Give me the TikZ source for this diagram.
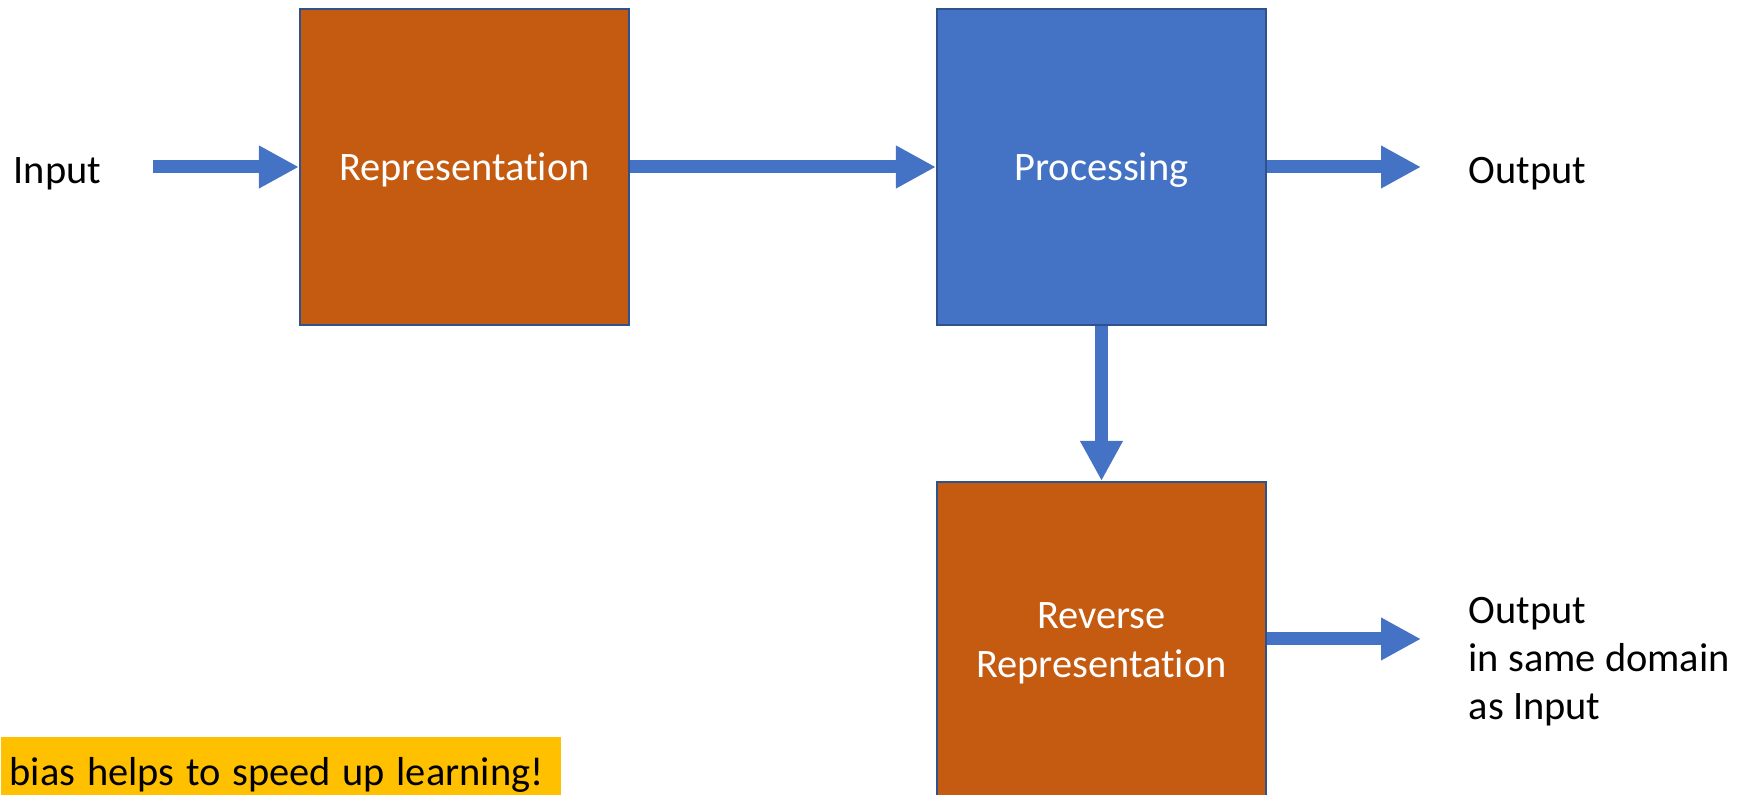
\documentclass[tikz,border=0pt]{standalone}
\usepackage{fontspec}
\setmainfont{Carlito}[RawFeature={-liga;-clig;-calt}]
\usetikzlibrary{arrows.meta}

\definecolor{reporange}{HTML}{C55A11}
\definecolor{procblue}{HTML}{4472C4}
\definecolor{edgeblue}{HTML}{2F528F}
\definecolor{noteyellow}{HTML}{FFC000}

\tikzset{
    blockbox/.style={draw=edgeblue, line width=0.6pt, minimum width=3.29cm, minimum height=3.16cm,
        text=white, align=center, inner sep=0pt, text depth=-0.6pt},
    flowarrow/.style={draw=procblue, line width=3.7pt, -{Triangle[length=4mm, width=4mm]}},
    plainlabel/.style={inner sep=0pt, align=left}
}

\begin{document}
\begin{tikzpicture}[font=\fontsize{11.5}{13.7}\selectfont]
    \useasboundingbox (0,0) rectangle (17.57,-7.95);
    \clip (0,0) rectangle (17.57,-7.95);

    % Representation box
    \node[blockbox, fill=reporange] (rep) at (4.645,-1.67) {Representation};

    % Processing box
    \node[blockbox, fill=procblue] (proc) at (11.015,-1.67) {Processing};

    % Reverse representation box
    \node[blockbox, fill=reporange] (rev) at (11.015,-6.40) {Reverse\\Representation};

    % Input and outputs
    \node[plainlabel, anchor=west] (input) at (0.13,-1.74) {Input};
    \node[plainlabel, anchor=west] (output) at (14.68,-1.74) {Output};
    \node[plainlabel, anchor=west] (output2) at (14.68,-6.62) {Output\\in same domain\\as Input};
    \coordinate (inend) at (1.53,-1.67);
    \coordinate (outend) at (14.21,-1.67);
    \coordinate (out2end) at (14.21,-6.39);

    % Arrows
    \draw[flowarrow] (inend) -- (rep.west);
    \draw[flowarrow] (rep.east) -- (proc.west);
    \draw[flowarrow] (proc.east) -- (outend);
    \draw[flowarrow] (proc.south) -- (rev.north);
    \draw[flowarrow] (rev.east |- out2end) -- (out2end);

    % Note
    \node[fill=noteyellow, anchor=base west, inner xsep=0.09cm, inner ysep=0pt,
        text width=5.42cm, text height=0.49cm, text depth=0.3cm] (note) at (0,-7.86)
        {\mbox{\spaceskip=0.29em bias helps to speed up learning!}};
\end{tikzpicture}
\end{document}
